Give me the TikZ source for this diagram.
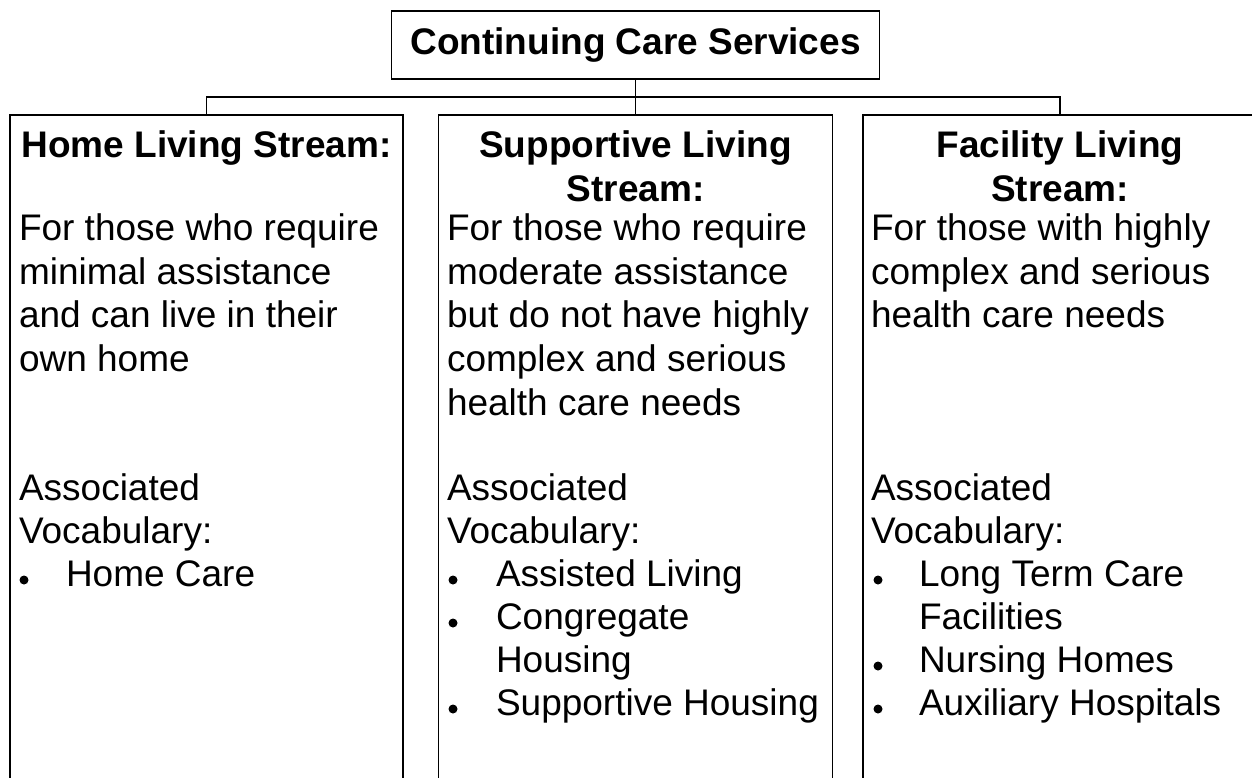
\documentclass[tikz,border=0pt]{standalone}
\usepackage{fontspec}
\setmainfont{Liberation Sans}
\begin{document}
\begin{tikzpicture}[x=1pt,y=-1pt]
\tikzset{
  every node/.style={inner sep=0pt, outer sep=0pt},
  frame/.style={draw=black, line width=1.6pt},
  link/.style={draw=black, line width=1.4pt},
  hd/.style={font=\fontsize{37}{43}\selectfont\bfseries, anchor=base},
  tx/.style={font=\fontsize{37}{43}\selectfont, anchor=base west},
  dot/.style={circle, fill=black, minimum size=9pt, inner sep=0pt}
}
\clip (0,0) rectangle (1252,777);
\fill[white] (0,0) rectangle (1252,777);

% boxes
\node[frame, minimum width=488pt, minimum height=68pt] (top) at (635.5,45) {};
\node[frame, minimum width=393pt, minimum height=720pt, anchor=north] (home) at (206.5,115) {};
\node[frame, minimum width=394pt, minimum height=720pt, anchor=north] (sup) at (635.5,115) {};
\node[frame, minimum width=394pt, minimum height=720pt, anchor=north] (fac) at (1060,115) {};

% connectors
\coordinate (bar) at (635.5,97);
\draw[link] (top.south) -- (sup.north);
\draw[link] (home.north) -- (home.north |- bar) -- (fac.north |- bar) -- (fac.north);

% title
\node[hd] (title) at (635.5,54) {Continuing Care Services};

% Home Living
\node[hd] (h1) at (206.5,157) {Home Living Stream:};
\node[tx] (h2) at (19,240) {For those who require};
\node[tx] (h3) at (19,284) {minimal assistance};
\node[tx] (h4) at (19,327.5) {and can live in their};
\node[tx] (h5) at (19,371) {own home};
\node[tx] (h6) at (19,500) {Associated};
\node[tx] (h7) at (19,543) {Vocabulary:};
\node[dot] (hb1) at (24,580) {};
\node[tx] (h8) at (66,586) {Home Care};

% Supportive Living
\node[hd] (s1) at (635.5,157) {Supportive Living};
\node[hd] (s2) at (635.5,201) {Stream:};
\node[tx] (s3) at (447,240) {For those who require};
\node[tx] (s4) at (447,284) {moderate assistance};
\node[tx] (s5) at (447,327.5) {but do not have highly};
\node[tx] (s6) at (447,371) {complex and serious};
\node[tx] (s7) at (447,415) {health care needs};
\node[tx] (s8) at (447,500) {Associated};
\node[tx] (s9) at (447,543) {Vocabulary:};
\node[dot] (sb1) at (453,580) {};
\node[tx] (s10) at (496,586) {Assisted Living};
\node[dot] (sb2) at (453,623) {};
\node[tx] (s11) at (496,629) {Congregate};
\node[tx] (s12) at (496,672) {Housing};
\node[dot] (sb3) at (453,709) {};
\node[tx] (s13) at (496,715) {Supportive Housing};

% Facility Living
\node[hd] (f1) at (1060,157) {Facility Living};
\node[hd] (f2) at (1060,201) {Stream:};
\node[tx] (f3) at (871,240) {For those with highly};
\node[tx] (f4) at (871,284) {complex and serious};
\node[tx] (f5) at (871,327.5) {health care needs};
\node[tx] (f6) at (871,500) {Associated};
\node[tx] (f7) at (871,543) {Vocabulary:};
\node[dot] (fb1) at (878,580) {};
\node[tx] (f8) at (919,586) {Long Term Care};
\node[tx] (f9) at (919,629) {Facilities};
\node[dot] (fb2) at (878,666) {};
\node[tx] (f10) at (919,672) {Nursing Homes};
\node[dot] (fb3) at (878,709) {};
\node[tx] (f11) at (919,715) {Auxiliary Hospitals};
\end{tikzpicture}
\end{document}
